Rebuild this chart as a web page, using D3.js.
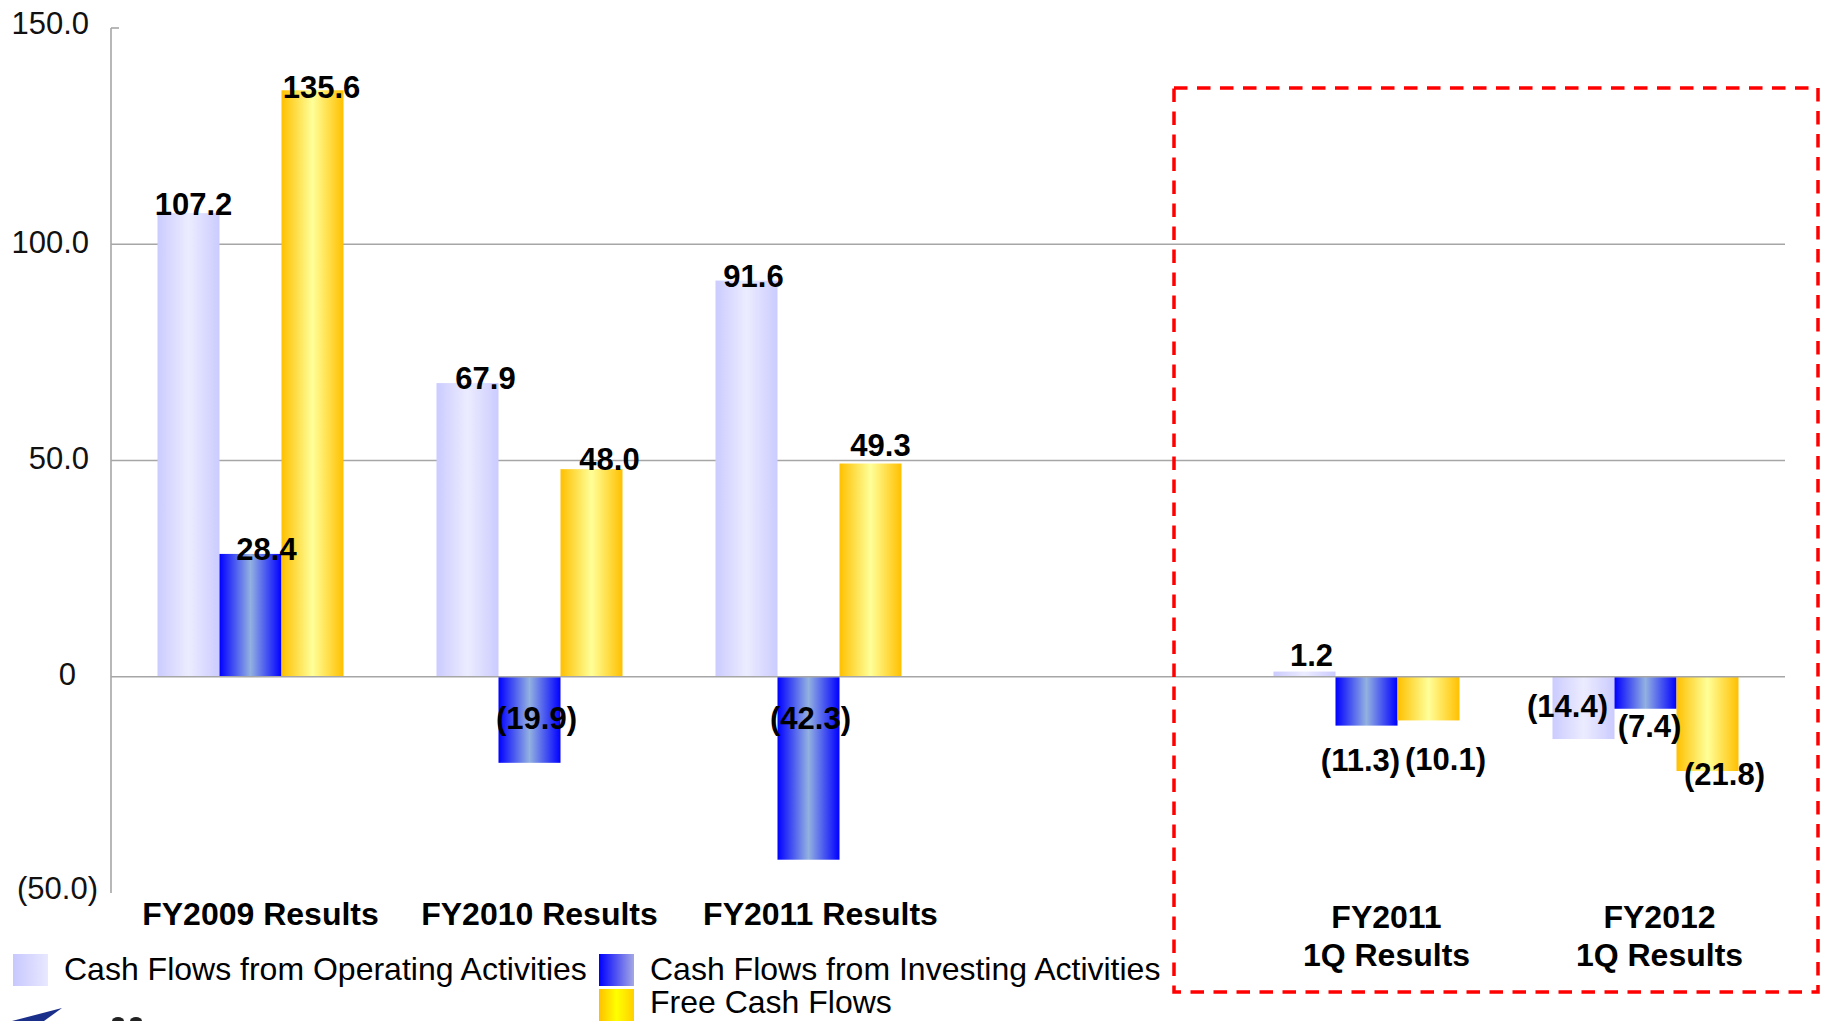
<!DOCTYPE html>
<html>
<head>
<meta charset="utf-8">
<script src="https://cdn.jsdelivr.net/npm/d3@7"></script>
<style>
  html, body { margin: 0; padding: 0; background: #fff; }
  svg { display: block; font-family: "Liberation Sans", Arial, sans-serif; }
</style>
</head>
<body>
<svg id="chart" width="1825" height="1021"></svg>
<script>
// ---------------- data ----------------
const categories = ["FY2009 Results", "FY2010 Results", "FY2011 Results", "", "FY2011\n1Q Results", "FY2012\n1Q Results"];
const seriesNames = ["Cash Flows from Operating Activities", "Cash Flows from Investing Activities", "Free Cash Flows"];
const operating = [107.2, 67.9, 91.6, null, 1.2, -14.4];
const investing = [28.4, -19.9, -42.3, null, -11.3, -7.4];
const freeCash  = [135.6, 48.0, 49.3, null, -10.1, -21.8];
const yTicks = [150, 100, 50, 0, -50];
const tickLabels = ["150.0", "100.0", "50.0", "0", "(50.0)"];

// ---------------- layout ----------------
const seriesValues = [operating, investing, freeCash];
// per-label nudges [dx from bar centre, dy from bar end] (label placement only)
const labelNudge = [
  [[5, 2], [18, 6], [7, 6], null, [7, -6], [-16, -22]],
  [[16, 6], [7, -34], [2, -131], null, [-6, 45], [4, 28]],
  [[9, 8], [18, 1], [10, -8], null, [17, 50], [17, 14]]
];
const catNudge = [10, 10, 12, 0, 20, 14];
const gradStops = [
  ["#cbcbff", "#ececff", "#cbcbff"],
  ["#0000ff", "#93b1e0", "#0000ff"],
  ["#ffc000", "#ffff99", "#ffc000"]
];
const swatchStops = [
  ["#c8c8ff", "#e8e8ff"],
  ["#0000ff", "#a4a8e4"],
  ["#ffc000", "#ffff00", "#ffd000"]
];

const svg = d3.select("#chart");
const defs = svg.append("defs");

gradStops.forEach((stops, i) => {
  const g = defs.append("linearGradient").attr("id", "bar" + i)
    .attr("x1", "0").attr("x2", "1").attr("y1", "0").attr("y2", "0");
  stops.forEach((c, j) => g.append("stop").attr("offset", (j / (stops.length - 1) * 100) + "%").attr("stop-color", c));
});
swatchStops.forEach((stops, i) => {
  const g = defs.append("linearGradient").attr("id", "sw" + i)
    .attr("x1", "0").attr("x2", "1").attr("y1", "0").attr("y2", "0");
  stops.forEach((c, j) => g.append("stop").attr("offset", (j / (stops.length - 1) * 100) + "%").attr("stop-color", c));
});

const plotLeft = 111, plotRight = 1785, plotTop = 28, plotBottom = 893;

const x0 = d3.scaleBand().domain(d3.range(categories.length))
  .range([plotLeft, plotRight]).paddingInner(1 / 3).paddingOuter(1 / 6);
const x1 = d3.scaleBand().domain(d3.range(seriesNames.length)).range([0, x0.bandwidth()]);
const y = d3.scaleLinear().domain([-50, 150]).range([plotBottom, plotTop]);

const gridColor = "#a6a6a6";

// gridlines (100, 50)
svg.append("g").selectAll("line").data(yTicks.filter(t => t !== 0 && t !== 150 && t !== -50)).join("line")
  .attr("x1", plotLeft).attr("x2", plotRight)
  .attr("y1", d => y(d)).attr("y2", d => y(d))
  .attr("stroke", gridColor).attr("stroke-width", 1.6);

// y axis using d3 axis, styled
const yAxis = d3.axisLeft(y).tickValues(yTicks).tickSize(0)
  .tickFormat((d, i) => tickLabels[i]);
const ay = svg.append("g").attr("transform", `translate(${plotLeft},0)`).call(yAxis);
ay.select(".domain").remove();
ay.selectAll("text")
  .attr("x", (d) => d === 0 ? -35 : (d === -50 ? -13 : -22)).attr("dy", null)
  .attr("y", d => (d === 150 || d === -50) ? 5 : 8)
  .attr("font-size", 31).attr("fill", "#111")
  .attr("font-family", '"Liberation Sans", Arial, sans-serif');
svg.append("line").attr("x1", plotLeft).attr("x2", plotLeft)
  .attr("y1", y(150)).attr("y2", y(-50)).attr("stroke", gridColor).attr("stroke-width", 1.6);
svg.append("line").attr("x1", plotLeft).attr("x2", plotLeft + 8)
  .attr("y1", y(150)).attr("y2", y(150)).attr("stroke", gridColor).attr("stroke-width", 1.6);

// bars
const fmt = d3.format(".1f");
const label = v => v < 0 ? `(${fmt(-v)})` : fmt(v);

const groups = svg.append("g").selectAll("g").data(categories.map((c, i) => i)).join("g")
  .attr("transform", i => `translate(${x0(i)},0)`);

groups.selectAll("rect").data(ci => seriesValues.map((s, si) => ({ si, ci, v: s[ci] })).filter(d => d.v != null))
  .join("rect")
  .attr("x", d => x1(d.si))
  .attr("width", x1.bandwidth())
  .attr("y", d => y(Math.max(0, d.v)))
  .attr("height", d => Math.abs(y(d.v) - y(0)))
  .attr("fill", d => `url(#bar${d.si})`);

// zero line
svg.append("line").attr("x1", plotLeft).attr("x2", plotRight)
  .attr("y1", y(0)).attr("y2", y(0)).attr("stroke", gridColor).attr("stroke-width", 1.6);

// value labels
groups.selectAll("text.val").data(ci => seriesValues.map((s, si) => ({ si, ci, v: s[ci] })).filter(d => d.v != null))
  .join("text").attr("class", "val")
  .attr("x", d => x1(d.si) + x1.bandwidth() / 2 + labelNudge[d.si][d.ci][0])
  .attr("y", d => y(d.v) + labelNudge[d.si][d.ci][1])
  .attr("text-anchor", "middle")
  .attr("font-size", 31).attr("font-weight", "bold").attr("fill", "#000")
  .text(d => label(d.v));

// category labels
const catG = svg.append("g");
categories.forEach((c, i) => {
  if (!c) return;
  const cx = x0(i) + x0.bandwidth() / 2 + catNudge[i];
  const t = catG.append("text")
    .attr("x", cx)
    .attr("y", y(-50) + (c.includes("\n") ? 35 : 32))
    .attr("text-anchor", "middle")
    .attr("font-size", 32).attr("font-weight", "bold").attr("fill", "#000");
  c.split("\n").forEach((line, k) => {
    t.append("tspan").attr("x", cx).attr("dy", k === 0 ? 0 : 38).text(line);
  });
});

// red dashed highlight box
svg.append("rect").attr("x", 1174).attr("y", 88).attr("width", 644).attr("height", 904)
  .attr("fill", "none").attr("stroke", "#ff0000").attr("stroke-width", 3.5)
  .attr("stroke-dasharray", "13.5,9.5");

// legend
const legendPos = [[13, 954], [599, 954], [599, 989]];
const lg = svg.append("g");
seriesNames.forEach((n, i) => {
  lg.append("rect").attr("x", legendPos[i][0]).attr("y", legendPos[i][1])
    .attr("width", 35).attr("height", 32).attr("fill", `url(#sw${i})`);
  lg.append("text").attr("x", legendPos[i][0] + 51).attr("y", legendPos[i][1] + (i === 2 ? 24 : 26))
    .attr("font-size", 32).attr("fill", "#000").text(n);
});

// partial logo at bottom-left (cropped in reference)
svg.append("path").attr("d", "M12,1021 L62,1008 L44,1021 Z").attr("fill", "#1a2f8a");
svg.append("ellipse").attr("cx", 118).attr("cy", 1021).attr("rx", 6).attr("ry", 4).attr("fill", "#222");
svg.append("ellipse").attr("cx", 136).attr("cy", 1021).attr("rx", 6).attr("ry", 4).attr("fill", "#222");
</script>
</body>
</html>
